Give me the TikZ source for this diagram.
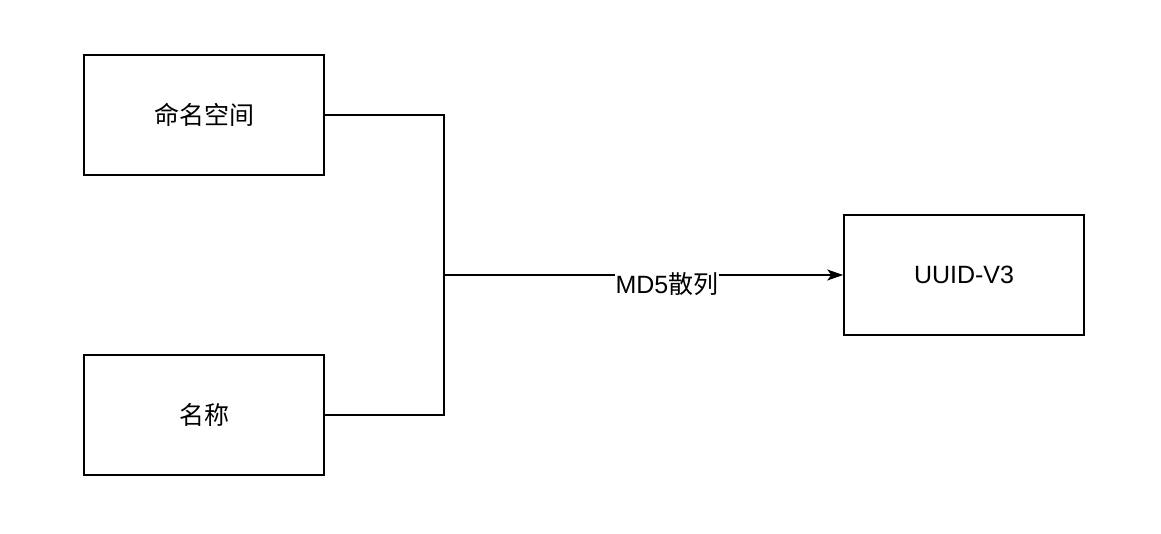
\documentclass[tikz,border=0pt]{standalone}
\usepackage{fontspec}
\setmainfont{Liberation Sans}
\newfontfamily\cjk{Noto Sans CJK SC}
\usetikzlibrary{arrows.meta}
\begin{document}
\begin{tikzpicture}[x=1pt,y=-1pt,
  box/.style={draw,line width=1.6pt,minimum width=240pt,minimum height=120pt,inner sep=0pt,font=\fontsize{25}{30}\selectfont},
  conn/.style={line width=1.6pt}]
\useasboundingbox (0,0) rectangle (1161,534);
\node[box] (ns) at (204,115) {\cjk 命名空间};
\node[box] (nm) at (204,415) {\cjk 名称};
\node[box] (uu) at (964,275) {UUID-V3};
\coordinate (j) at (444,275);
\draw[conn] (ns.east) -| (j);
\draw[conn] (nm.east) -| (j);
\draw[conn,-{Stealth[length=16pt,width=11pt,inset=4pt]}] (j) -- (uu.west);
\node[fill=white,inner sep=1pt,font=\fontsize{25}{30}\selectfont] (lbl) at (667,284) {MD5{\cjk 散列}};
\end{tikzpicture}
\end{document}
